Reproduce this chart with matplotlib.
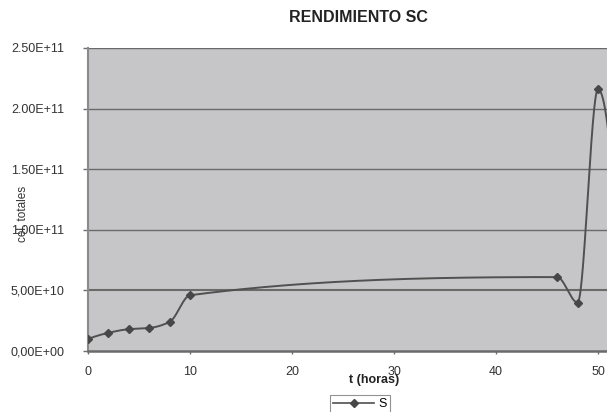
import numpy as np
import matplotlib
matplotlib.use("Agg")
import matplotlib.pyplot as plt
from matplotlib.ticker import FixedLocator, FixedFormatter
from matplotlib.lines import Line2D

plt.rcParams['font.family'] = ['Liberation Sans', 'DejaVu Sans']

# Measurements: time (hours) and total cell count
t_horas = [0, 2, 4, 6, 8, 10, 46, 48, 50, 52]
cel_totales = [1.0e10, 1.5e10, 1.8e10, 1.9e10, 2.4e10, 4.6e10, 6.1e10, 4.0e10, 2.16e11, 7.0e10]

y_ticks = [0, 5e10, 1e11, 1.5e11, 2e11, 2.5e11]
y_tick_labels = ["0,00E+00", "5,00E+10", "1.00E+11", "1.50E+11", "2.00E+11", "2.50E+11"]
x_ticks = [0, 10, 20, 30, 40, 50]
x_tick_labels = ["0", "10", "20", "30", "40", "50"]


def pchip_curve(xs, ys, n=80):
    """Shape-preserving cubic Hermite interpolation (Fritsch-Carlson)."""
    x = np.asarray(xs, float)
    y = np.asarray(ys, float)
    h = np.diff(x)
    d = np.diff(y) / h
    m = np.zeros_like(y)
    for k in range(1, len(x) - 1):
        if d[k - 1] * d[k] > 0:
            w1 = 2 * h[k] + h[k - 1]
            w2 = h[k] + 2 * h[k - 1]
            m[k] = (w1 + w2) / (w1 / d[k - 1] + w2 / d[k])

    def end_slope(h0, h1, d0, d1):
        s = ((2 * h0 + h1) * d0 - h0 * d1) / (h0 + h1)
        if np.sign(s) != np.sign(d0):
            s = 0.0
        elif np.sign(d0) != np.sign(d1) and abs(s) > abs(3 * d0):
            s = 3 * d0
        return s

    m[0] = end_slope(h[0], h[1], d[0], d[1])
    m[-1] = end_slope(h[-1], h[-2], d[-1], d[-2])

    px, py = [], []
    for k in range(len(x) - 1):
        t = np.linspace(0, 1, n)
        if k > 0:
            t = t[1:]
        h00 = 2 * t**3 - 3 * t**2 + 1
        h10 = t**3 - 2 * t**2 + t
        h01 = -2 * t**3 + 3 * t**2
        h11 = t**3 - t**2
        px.append(x[k] + t * h[k])
        py.append(h00 * y[k] + h10 * h[k] * m[k] + h01 * y[k + 1] + h11 * h[k] * m[k + 1])
    return np.concatenate(px), np.concatenate(py)


W, H = 607, 412
fig = plt.figure(figsize=(W / 100, H / 100), dpi=100)
fig.patch.set_facecolor("white")

left_px, right_px = 88, 88 + 612
top_px, bottom_px = 48, 351
ax = fig.add_axes([left_px / W, (H - bottom_px) / H,
                   (right_px - left_px) / W, (bottom_px - top_px) / H])
ax.set_facecolor("#c6c6c8")

ax.set_xlim(0, 60)
ax.set_ylim(0, 2.5e11)

for yv in y_ticks[1:]:
    ax.axhline(yv, color="#6a6a6a", lw=1.5 if yv == 5e10 else 1.0, zorder=1)

sx, sy = pchip_curve(t_horas, cel_totales)
ax.plot(sx, sy, color="#505050", lw=1.4, zorder=3)
ax.plot(t_horas, cel_totales, linestyle="none", marker="D", markersize=4.3,
        color="#474747", zorder=4)

ax.yaxis.set_major_locator(FixedLocator(y_ticks))
ax.yaxis.set_major_formatter(FixedFormatter(y_tick_labels))
ax.xaxis.set_major_locator(FixedLocator(x_ticks))
ax.xaxis.set_major_formatter(FixedFormatter(x_tick_labels))

ax.tick_params(axis="y", direction="out", length=3.6, width=1, color="#6e6e6e",
               labelsize=9, labelcolor="#333333", pad=13.5)
ax.tick_params(axis="x", direction="out", length=2, width=1, color="#6e6e6e",
               labelsize=9, labelcolor="#333333", pad=8.5)

for side in ("top", "right"):
    ax.spines[side].set_visible(False)
ax.spines["left"].set_color("#8a8a8a")
ax.spines["left"].set_linewidth(1.5)
ax.spines["bottom"].set_color("#6a6a6a")
ax.spines["bottom"].set_linewidth(1.8)

fig.text(358 / W, (H - 17) / H, "RENDIMIENTO SC", ha="center", va="center",
         fontsize=11.5, fontweight="bold", color="#222222")
fig.text(374 / W, (H - 380) / H, "t (horas)", ha="center", va="center",
         fontsize=9, fontweight="bold", color="#222222")
fig.text(23 / W, (H - 214) / H, "cel. totales", ha="center", va="center",
         rotation=90, fontsize=8.5, color="#333333")

handle = Line2D([], [], color="#505050", lw=1.2, marker="D", markersize=4,
                markerfacecolor="#474747", markeredgecolor="#474747")
leg = fig.legend([handle], ["S"], loc="upper left",
                 bbox_to_anchor=(330 / W, (H - 395) / H), fontsize=9,
                 frameon=True, fancybox=False, handlelength=3.3,
                 borderpad=0.25, handletextpad=0.3, borderaxespad=0)
leg.get_frame().set_edgecolor("#777777")
leg.get_frame().set_linewidth(0.8)

fig.savefig("out.png", dpi=100)
